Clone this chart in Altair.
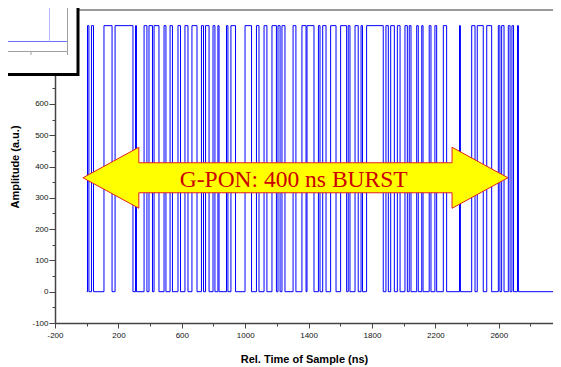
import altair as alt
import pandas as pd

# ---- data (ns) ----
high_start = [5, 30, 109, 179, 308, 362, 393, 425, 488, 526, 576, 620, 664, 724, 750, 797,
              828, 882, 910, 999, 1071, 1119, 1169, 1207, 1232, 1302, 1358, 1390, 1462, 1489,
              1539, 1602, 1650, 1693, 1731, 1766, 1888, 1918, 1960, 2008, 2035, 2082, 2114,
              2161, 2197, 2250, 2352, 2429, 2464, 2524, 2597, 2618, 2660, 2683, 2718]
high_end = [14, 43, 160, 292, 314, 380, 415, 456, 500, 541, 592, 639, 696, 737, 772, 809,
            835, 891, 939, 1040, 1087, 1137, 1197, 1220, 1251, 1320, 1384, 1434, 1472, 1510,
            1573, 1640, 1661, 1713, 1740, 1871, 1903, 1941, 1977, 2023, 2046, 2092, 2122,
            2172, 2208, 2271, 2358, 2450, 2502, 2555, 2607, 2633, 2671, 2693, 2724]
high_level = 850
low_level = 0
t_first = 0
t_last = 3100

x_ticks = [-200, 0, 200, 400, 600, 800, 1000, 1200, 1400, 1600, 1800, 2000, 2200, 2400,
           2600, 2800]
y_ticks = [-100, -50, 0, 50, 100, 150, 200, 250, 300, 350, 400, 450, 500, 550, 600, 650, 700]

arrow_x = [1317]
arrow_y = [364]
label_text = ["G-PON: 400 ns BURST"]
label_x = [1306]
label_y = [336]

# ---- build tables ----
rows = [{"t": t_first, "amp": low_level}]
for s, e in zip(high_start, high_end):
    rows.append({"t": s, "amp": high_level})
    rows.append({"t": e, "amp": low_level})
rows.append({"t": t_last, "amp": low_level})
wave_df = pd.DataFrame(rows)

arrow_df = pd.DataFrame({"t": arrow_x, "amp": arrow_y})
label_df = pd.DataFrame({"t": label_x, "amp": label_y, "txt": label_text})
one = pd.DataFrame({"k": [0]})

x_scale = alt.Scale(domain=[-200, 2942], nice=False, zero=False)
y_scale = alt.Scale(domain=[-100, 900], nice=False, zero=False)

x_axis = alt.Axis(
    title="Rel. Time of Sample (ns)", values=x_ticks, tickCount=60,
    labelExpr="(datum.value + 200) % 400 === 0 ? '' + datum.value : ''",
    tickSize={"condition": {"test": "(datum.value + 200) % 400 === 0", "value": 5}, "value": 3},
    grid=False, labelOverlap=False, labelPadding=3, titlePadding=14,
    labelFlush=False, zindex=0,
)
y_axis = alt.Axis(
    title="Amplitude (a.u.)", values=y_ticks, tickCount=60,
    labelExpr="datum.value % 100 === 0 ? '' + datum.value : ''",
    tickSize={"condition": {"test": "datum.value % 100 === 0", "value": 6}, "value": 3},
    grid=False, labelOverlap=False, labelPadding=1, titlePadding=11,
    labelFlush=False, zindex=0,
)

wave = alt.Chart(wave_df).mark_line(
    interpolate="step-after", color="#0000FF", strokeWidth=1, clip=True
).encode(
    x=alt.X("t:Q", scale=x_scale, axis=x_axis),
    y=alt.Y("amp:Q", scale=y_scale, axis=y_axis),
)

top_frame = alt.Chart(one).mark_rule(color="#999999", strokeWidth=2).encode(
    x=alt.value(0), x2=alt.value(498), y=alt.value(0)
)

arrow_path = ("M -1 0 L -0.737 -0.1435 L -0.737 -0.0706 L 0.737 -0.0706 L 0.737 -0.1435 "
              "L 1 0 L 0.737 0.1435 L 0.737 0.0706 L -0.737 0.0706 L -0.737 0.1435 Z")
arrow = alt.Chart(arrow_df).mark_point(
    shape=arrow_path, size=180625, filled=True, fill="#FFFF00", stroke="#E02020",
    strokeWidth=1, opacity=1, fillOpacity=1, strokeOpacity=1,
).encode(x="t:Q", y="amp:Q")

label = alt.Chart(label_df).mark_text(
    font="Liberation Serif", fontSize=23.5, color="#CC0000", align="center", baseline="alphabetic"
).encode(x="t:Q", y="amp:Q", text="txt:N")

inset_box = alt.Chart(one).mark_rect(fill="white", stroke="black", strokeWidth=3).encode(
    x=alt.value(-60), x2=alt.value(23), y=alt.value(-15), y2=alt.value(64.5)
)
inset_h_axis = alt.Chart(one).mark_rule(color="#a0a0a0", strokeWidth=1).encode(
    x=alt.value(-60), x2=alt.value(12.5), y=alt.value(41.5)
)
inset_v_axis = alt.Chart(one).mark_rule(color="#a0a0a0", strokeWidth=1).encode(
    x=alt.value(12.5), y=alt.value(-15), y2=alt.value(41.5)
)
inset_tick_a = alt.Chart(one).mark_rule(color="#a0a0a0").encode(
    x=alt.value(-24), y=alt.value(41.5), y2=alt.value(45)
)
inset_tick_b = alt.Chart(one).mark_rule(color="#a0a0a0").encode(
    x=alt.value(12.5), y=alt.value(41.5), y2=alt.value(45)
)
inset_h_line = alt.Chart(one).mark_rule(color="#7070ff", strokeWidth=1).encode(
    x=alt.value(-60), x2=alt.value(12), y=alt.value(31.5)
)
inset_v_line = alt.Chart(one).mark_rule(color="#b8b8ff", strokeWidth=1).encode(
    x=alt.value(-5.5), y=alt.value(-15), y2=alt.value(31.5)
)

chart = alt.layer(
    top_frame, wave, arrow, label, inset_box, inset_h_axis, inset_v_axis, inset_tick_a,
    inset_tick_b, inset_h_line, inset_v_line
).properties(
    width=498, height=313,
    padding={"left": 47, "top": 2, "right": 0, "bottom": 42},
    autosize=alt.AutoSizeParams(type="none"),
).configure_view(
    stroke=None
).configure_axis(
    domainColor="#444444", domainWidth=1.5, tickColor="#444444", tickWidth=1,
    labelFont="Liberation Sans", labelFontSize=8, labelColor="#111111", labelOverlap=False,
    titleFont="Liberation Sans", titleFontSize=11, titleFontWeight="bold", titleColor="#000000",
)

chart.save("out.html", embed_options={"renderer": "svg", "actions": False})
